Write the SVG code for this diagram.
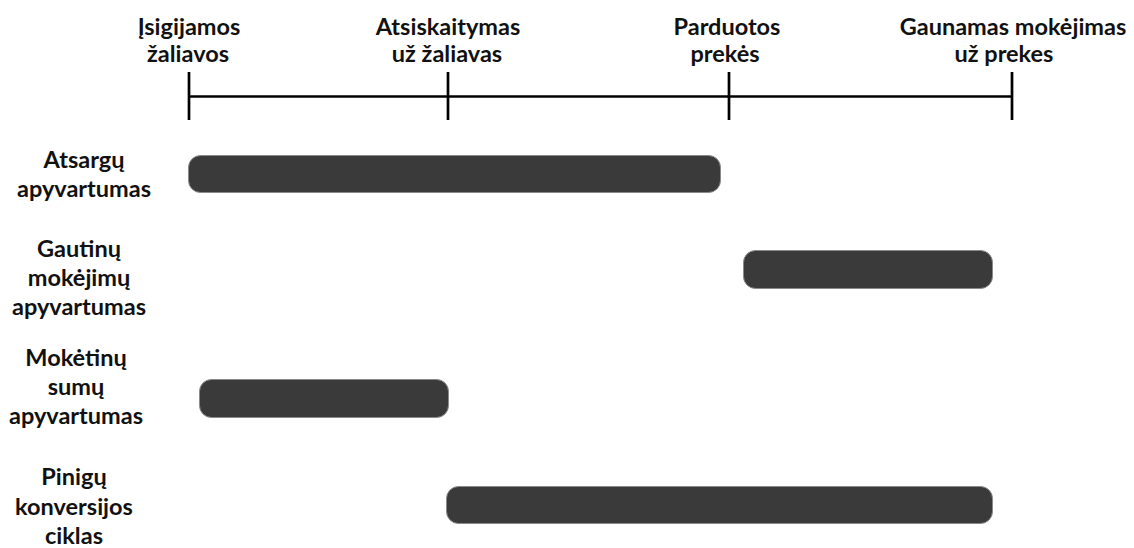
<svg xmlns="http://www.w3.org/2000/svg" width="1134" height="548" viewBox="0 0 1134 548">
<style>
.t{font-family:Lato,"Open Sans","Liberation Sans",sans-serif;font-weight:bold;font-size:23.5px;fill:#111;text-anchor:middle}
.ax{stroke:#000;stroke-width:2.7;fill:none}
.bar{fill:#3a3a3a;stroke:#8a8a8a;stroke-width:1}
</style>
<rect width="1134" height="548" fill="#fff"/>
<g id="timeline">
<line class="ax" x1="189" y1="96.5" x2="1012" y2="96.5"/>
<line class="ax" x1="189" y1="72" x2="189" y2="120"/>
<line class="ax" x1="448" y1="72" x2="448" y2="120"/>
<line class="ax" x1="729" y1="72" x2="729" y2="120"/>
<line class="ax" x1="1012" y1="72" x2="1012" y2="120"/>
</g>
<g id="event-labels">
<text class="t" x="189" y="35">Įsigijamos</text>
<text class="t" x="188" y="62">žaliavos</text>
<text class="t" x="448" y="35">Atsiskaitymas</text>
<text class="t" x="447" y="62">už žaliavas</text>
<text class="t" x="727" y="35">Parduotos</text>
<text class="t" x="725" y="62">prekės</text>
<text class="t" x="1013" y="35">Gaunamas mokėjimas</text>
<text class="t" x="1004" y="62">už prekes</text>
</g>
<g id="row-atsargu">
<text class="t" x="84" y="168">Atsargų</text>
<text class="t" x="84" y="197">apyvartumas</text>
<rect class="bar" x="188.5" y="155.5" width="532" height="37" rx="12"/>
</g>
<g id="row-gautinu">
<text class="t" x="79" y="257">Gautinų</text>
<text class="t" x="79" y="286">mokėjimų</text>
<text class="t" x="79" y="315">apyvartumas</text>
<rect class="bar" x="743.5" y="250.5" width="249" height="38" rx="12"/>
</g>
<g id="row-moketinu">
<text class="t" x="76" y="366">Mokėtinų</text>
<text class="t" x="76" y="395">sumų</text>
<text class="t" x="76" y="424">apyvartumas</text>
<rect class="bar" x="199.5" y="379.5" width="249" height="38" rx="12"/>
</g>
<g id="row-pinigu">
<text class="t" x="74" y="485">Pinigų</text>
<text class="t" x="74" y="515">konversijos</text>
<text class="t" x="74" y="544">ciklas</text>
<rect class="bar" x="446.5" y="486.5" width="546" height="37" rx="12"/>
</g>
</svg>
